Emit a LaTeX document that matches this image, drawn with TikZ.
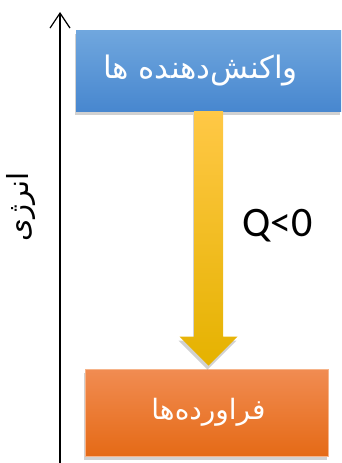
\documentclass[tikz,border=0pt]{standalone}
\usepackage{fontspec}
\usetikzlibrary{calc,arrows.meta,shadows}
\TeXXeTstate=1
\newfontfamily\arabicfont[Script=Arabic]{DejaVu Sans}
\newfontfamily\latinsans{Carlito}
\definecolor{bluetop}{HTML}{70A7DE}
\definecolor{bluebot}{HTML}{4887CF}
\definecolor{orgtop}{HTML}{F18C52}
\definecolor{orgmid}{HTML}{F27A27}
\definecolor{orgbot}{HTML}{E56A16}
\definecolor{orgedge}{HTML}{F6B48A}
\definecolor{goldtop}{HTML}{FFC846}
\definecolor{goldmid}{HTML}{FFC000}
\definecolor{goldbot}{HTML}{E5B200}
\tikzset{
  boxstyle/.style={rectangle, inner sep=0pt, text=white},
  shade3/.style={drop shadow={shadow xshift=-1pt, shadow yshift=-4pt, opacity=0.18, fill=black}},
  axisline/.style={line width=1.4pt, -{Straight Barb[length=15pt,width=20pt,line width=1.2pt]}},
}
\begin{document}
\begin{tikzpicture}[x=1pt,y=-1pt]
\useasboundingbox (0,0) rectangle (341,463);
% energy axis
\coordinate (axisbot) at (60,463);
\coordinate (axistop) at (60,12);
\draw[axisline] (axisbot) -- (axistop);
\node[rotate=90, font=\arabicfont\fontsize{29}{34}\selectfont] (energy) at (21,207) {\beginR انرژی\endR};
% reactants box
\node[boxstyle, shade3, minimum width=265pt, minimum height=81pt,
  top color=bluetop, bottom color=bluebot, font=\arabicfont\fontsize{31}{36}\selectfont] (react) at (208.5,70.5)
  {\beginR واکنش‌دهنده ها\endR\hspace*{16pt}};
% products box
\node[boxstyle, shade3, minimum width=243pt, minimum height=87pt,
  top color=orgtop, middle color=orgmid, bottom color=orgbot, draw=orgedge, line width=0.8pt,
  font=\arabicfont\fontsize{28}{33}\selectfont] (prod) at (206.5,412.5)
  {\beginR فراورده‌ها\endR\hspace*{-4pt}};
% arrow
\coordinate (tip) at ($(react.south |- prod.north)+(0,-3)$);
\path[shade3, top color=goldtop, middle color=goldmid, bottom color=goldbot]
  ($(react.south)+(-14.5,0)$) -- ($(react.south)+(14.5,0)$)
  -- ($(tip)+(14.5,-29)$) -- ($(tip)+(29,-29)$) -- (tip)
  -- ($(tip)+(-29,-29)$) -- ($(tip)+(-14.5,-29)$) -- cycle;
\node[font=\latinsans\fontsize{42}{46}\selectfont, inner sep=0pt] (qlabel) at (277.5,226) {Q<0};
\end{tikzpicture}
\end{document}
